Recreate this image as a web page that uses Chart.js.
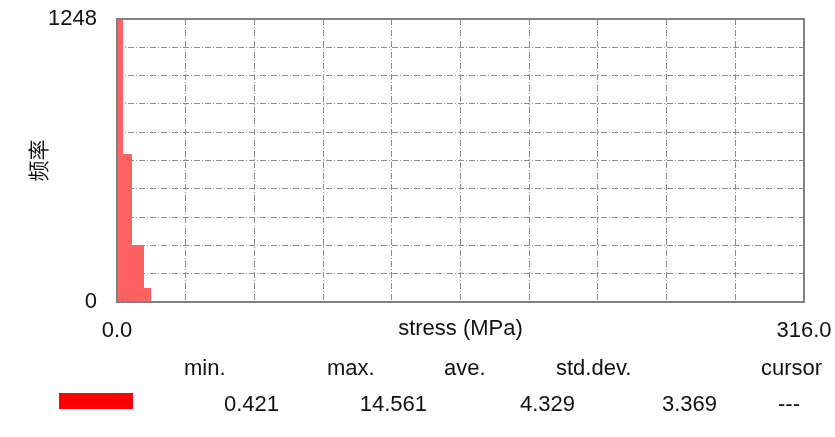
<!DOCTYPE html>
<html>
<head>
<meta charset="utf-8">
<script src="https://cdn.jsdelivr.net/npm/chart.js@4/dist/chart.umd.min.js"></script>
<style>
  html, body { margin: 0; padding: 0; background: #fff; }
  #wrap { position: relative; width: 835px; height: 437px; }
  #stats { position: absolute; left: 0; top: 0; width: 835px; height: 437px; pointer-events: none;
           font-family: "Liberation Sans", Arial, sans-serif; font-size: 22px; color: #111; }
  #stats span { position: absolute; white-space: nowrap; line-height: 1; }
  .swatch { position: absolute; background: #ff0000; }
</style>
</head>
<body>
<div id="wrap">
  <canvas id="histChart" width="835" height="437"></canvas>
  <div id="stats"></div>
</div>
<script>
// histogram bins (stress, MPa) and counts
const binEdges = [0, 2.76, 6.9, 12.42, 15.64];
const binCounts = [1248, 653, 251, 62];

const xMin = 0, xMax = 316;
const yMin = 0, yMax = 1248;
const gridDivisions = 10;
const xTickLabels = ["0.0", "316.0"];
const yTickLabels = ["0", "1248"];

const statNames = ["min.", "max.", "ave.", "std.dev.", "cursor"];
const statValues = ["0.421", "14.561", "4.329", "3.369", "---"];

// stepped outline: one point per bin start, then drop to zero at last edge
const points = binCounts.map((c, i) => ({ x: binEdges[i], y: c }));
points.push({ x: binEdges[binEdges.length - 1], y: 0 });

const gridTicks = (min, max) => {
    const out = [];
    for (let i = 0; i <= gridDivisions; i++) out.push({ value: min + (max - min) * i / gridDivisions });
    return out;
};

const dash = [6, 2, 1, 2];
const font = { family: "'Liberation Sans', Arial, sans-serif", size: 22 };

// frame round the plot area
const frame = {
    id: "frame",
    afterDraw(chart) {
        const a = chart.chartArea;
        const c = chart.ctx;
        c.save();
        c.strokeStyle = "#808080";
        c.lineWidth = 2;
        c.strokeRect(a.left, a.top, a.right - a.left, a.bottom - a.top);
        c.restore();
    }
};

new Chart(document.getElementById("histChart"), {
    type: "line",
    data: {
        datasets: [{
            data: points,
            stepped: true,
            fill: "origin",
            backgroundColor: "#ff6262",
            borderWidth: 0,
            pointRadius: 0
        }]
    },
    options: {
        responsive: false,
        animation: false,
        layout: { padding: { left: 0, top: 19, right: 31, bottom: 95 } },
        plugins: { legend: { display: false }, tooltip: { enabled: false } },
        scales: {
            x: {
                type: "linear",
                min: xMin,
                max: xMax,
                afterBuildTicks: s => { s.ticks = gridTicks(xMin, xMax); },
                afterFit: s => { s.height = 40; s.paddingLeft = 0; s.paddingRight = 0; },
                grid: { color: "#8c8c8c", lineWidth: 1, drawTicks: false },
                border: { display: false, dash: dash },
                ticks: {
                    autoSkip: false,
                    maxRotation: 0,
                    padding: 16,
                    color: "#111",
                    font: font,
                    callback: (v, i, t) => i === 0 ? xTickLabels[0] : (i === t.length - 1 ? xTickLabels[1] : "")
                },
                title: {
                    display: true,
                    text: "stress (MPa)",
                    color: "#111",
                    padding: { top: 0, bottom: 0 },
                    font: font
                }
            },
            y: {
                min: yMin,
                max: yMax,
                afterBuildTicks: s => { s.ticks = gridTicks(yMin, yMax); },
                afterFit: s => { s.width = 117; s.paddingTop = 0; s.paddingBottom = 0; },
                grid: { color: "#8c8c8c", lineWidth: 1, drawTicks: false },
                border: { display: false, dash: dash },
                ticks: {
                    autoSkip: false,
                    padding: 20,
                    color: "#111",
                    font: font,
                    callback: (v, i, t) => i === 0 ? yTickLabels[0] : (i === t.length - 1 ? yTickLabels[1] : "")
                },
                title: {
                    display: true,
                    text: "频率",
                    color: "#111",
                    padding: { top: 25, bottom: 0 },
                    font: { family: "'Noto Sans CJK SC', sans-serif", size: 21 }
                }
            }
        }
    },
    plugins: [frame]
});

// stats block under the chart
const stats = document.getElementById("stats");
const headLeft = [184, 327, 444, 556, 761];
const valueRight = [279, 427, 575, 717, 800];
statNames.forEach((name, i) => {
    const s = document.createElement("span");
    s.textContent = name;
    s.style.left = headLeft[i] + "px";
    s.style.top = "357px";
    stats.appendChild(s);
});
statValues.forEach((val, i) => {
    const s = document.createElement("span");
    s.textContent = val;
    s.style.right = (835 - valueRight[i]) + "px";
    s.style.top = "393px";
    stats.appendChild(s);
});
const sw = document.createElement("div");
sw.className = "swatch";
sw.style.left = "59px";
sw.style.top = "393px";
sw.style.width = "74px";
sw.style.height = "16px";
stats.appendChild(sw);
</script>
</body>
</html>
